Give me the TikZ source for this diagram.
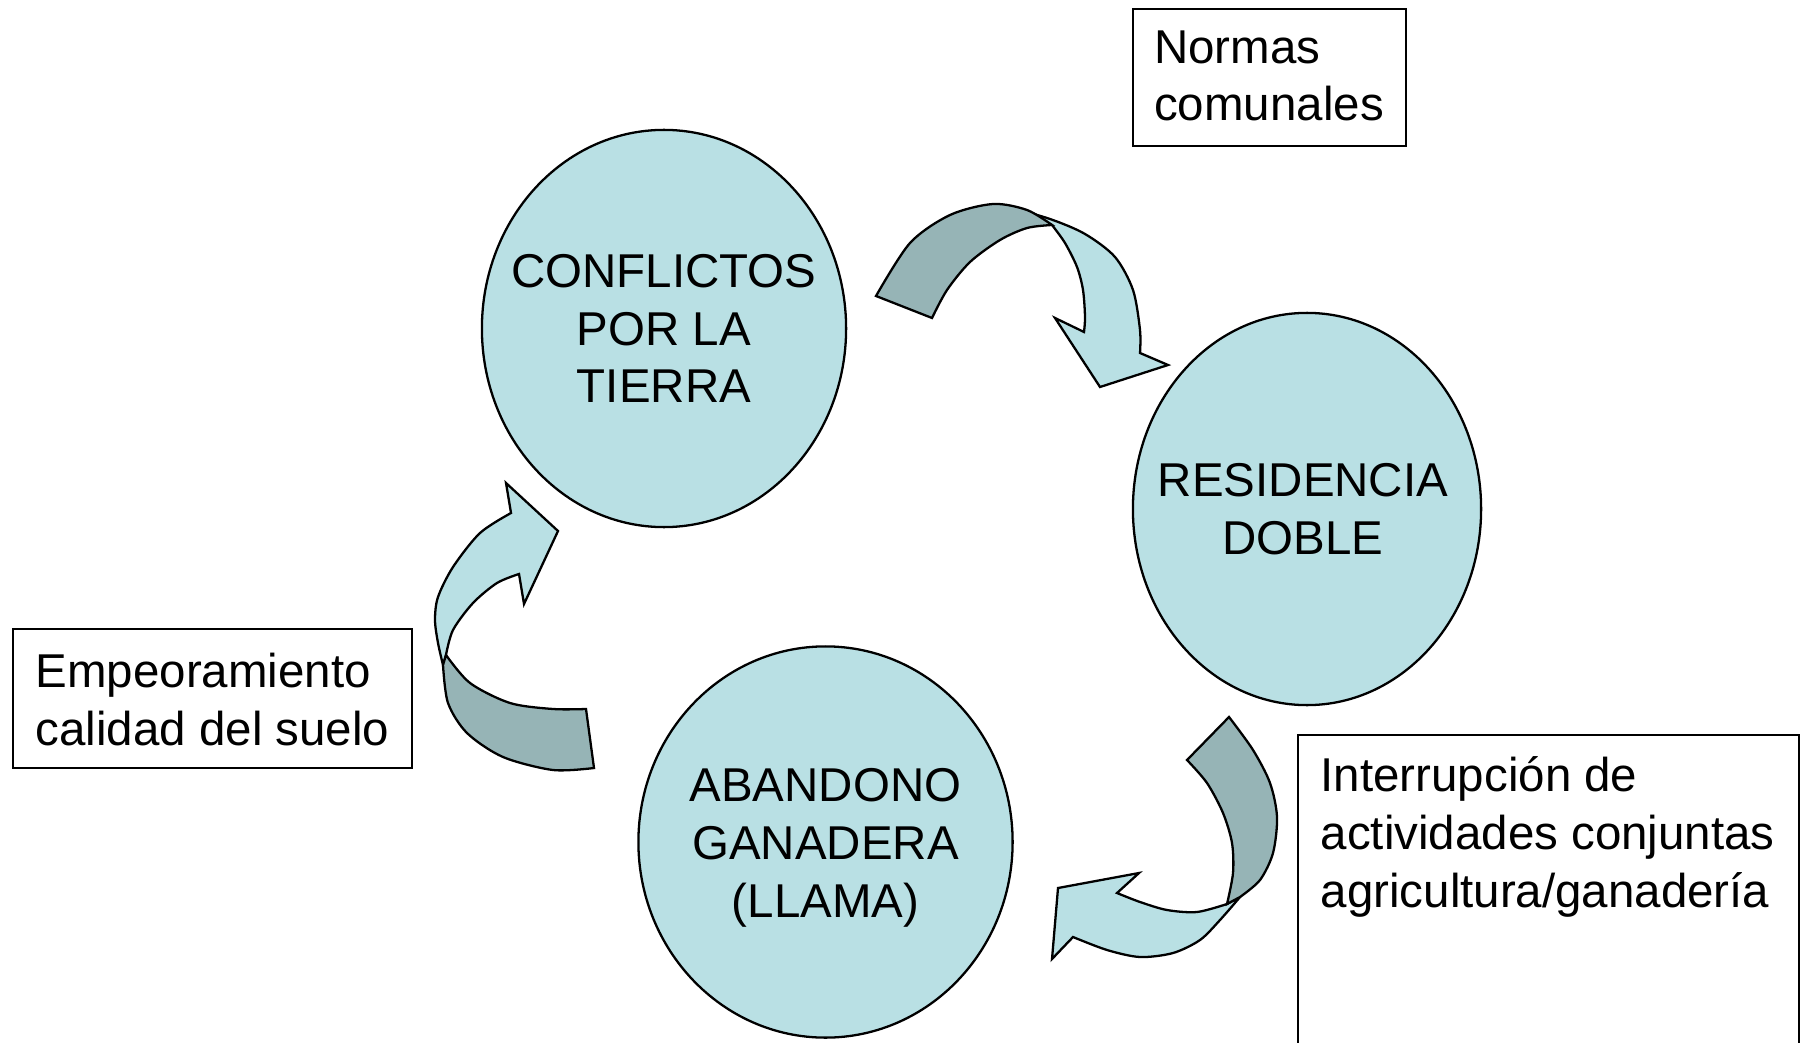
\documentclass[tikz,border=0pt]{standalone}
\usepackage{fontspec}
\setmainfont{Liberation Sans}
\usetikzlibrary{shapes.geometric}
\definecolor{celeste}{RGB}{185,224,228}
\definecolor{grisverde}{RGB}{150,180,182}
\begin{document}
\begin{tikzpicture}[x=0.01cm,y=-0.01cm,
  circ/.style={ellipse,draw,line width=0.65pt,fill=celeste,inner sep=0pt},
  lbl/.style={inner sep=0pt,align=center,font=\fontsize{13.5}{16.4}\selectfont},
  txt/.style={anchor=base west,inner sep=0pt,align=left,font=\fontsize{13.5}{16.4}\selectfont},
  lightarr/.style={draw,line width=0.65pt,line join=miter,fill=celeste},
  darkarr/.style={draw,line width=0.65pt,line join=miter,fill=grisverde}]
\useasboundingbox (0,0) rectangle (1804,1043);
\clip (0,0) rectangle (1804,1043);
\node[circ,minimum width=3.64cm,minimum height=3.97cm] (conflictos) at (664,328.5) {};
\node[lbl] (conflictostxt) at (conflictos) {CONFLICTOS\\POR LA\\TIERRA};
\node[circ,minimum width=3.48cm,minimum height=3.92cm] (residencia) at (1307,509) {};
\node[lbl] (residenciatxt) at (1303,509) {RESIDENCIA\\DOBLE};
\node[circ,minimum width=3.74cm,minimum height=3.91cm] (abandono) at (825.5,842) {};
\node[lbl] (abandonotxt) at (825.5,848) {ABANDONO\\GANADERA\\(LLAMA)};
\draw[line width=0.65pt] (1133,9) rectangle (1406,146);
\node[txt] (normas) at (1153.5,121) {Normas\\comunales};
\draw[line width=0.65pt] (13,629) rectangle (412,768);
\node[txt] (empeoramiento) at (35,745.5) {Empeoramiento\\calidad del suelo};
\draw[line width=0.65pt] (1298,735) rectangle (1799,1060);
\node[txt] (interrupcion) at (1320,907) {Interrupción de\\actividades conjuntas\\agricultura/ganadería};
% flecha de conflictos a residencia
\draw[lightarr] plot [smooth] coordinates {(1005,206)(1050,219)(1085,234)(1115,257)(1133,290)(1140,330)(1140,353)} -- (1168,365) -- (1100,387) -- (1055,318) -- (1084,332) -- plot [smooth] coordinates {(1084,332)(1085,317)(1083,290)(1077,267)(1065,243)(1052,225)} -- cycle;
\draw[darkarr] plot [smooth] coordinates {(876,296)(910,243)(950,215)(993,204)(1027,210)(1052,225)} -- plot [smooth] coordinates {(1052,225)(1027,228)(1000,240)(970,262)(947,290)(932,318)} -- cycle;
% flecha de residencia a abandono
\draw[lightarr] plot [smooth] coordinates {(1240,897)(1220,920)(1200,940)(1173,953)(1140,957)(1107,950)(1073,937)} -- (1052,959) -- (1058,888) -- (1139,873) -- (1117,893) -- plot [smooth] coordinates {(1117,893)(1140,902)(1167,910)(1197,912)(1227,904)} -- cycle;
\draw[darkarr] plot [smooth] coordinates {(1229,717)(1253,750)(1270,783)(1277,817)(1273,853)(1260,880)(1240,897)} -- plot [smooth] coordinates {(1227,904)(1233,873)(1232,843)(1223,813)(1207,783)(1187,760)} -- cycle;
% flecha de abandono a conflictos
\draw[lightarr] (511,513) -- (506,483) -- (558,531) -- (524,604) -- (519,574) -- plot [smooth] coordinates {(519,574)(497,583)(473,603)(453,630)(446,655)} -- plot [smooth] coordinates {(443,665)(438,643)(435,620)(438,597)(453,567)(480,533)(511,513)} -- cycle;
\draw[darkarr] plot [smooth] coordinates {(446,655)(470,683)(510,703)(553,709)(586,709)} -- (594,768) -- plot [smooth] coordinates {(594,768)(553,770)(503,757)(467,733)(448,703)(443,665)} -- cycle;
\end{tikzpicture}
\end{document}
